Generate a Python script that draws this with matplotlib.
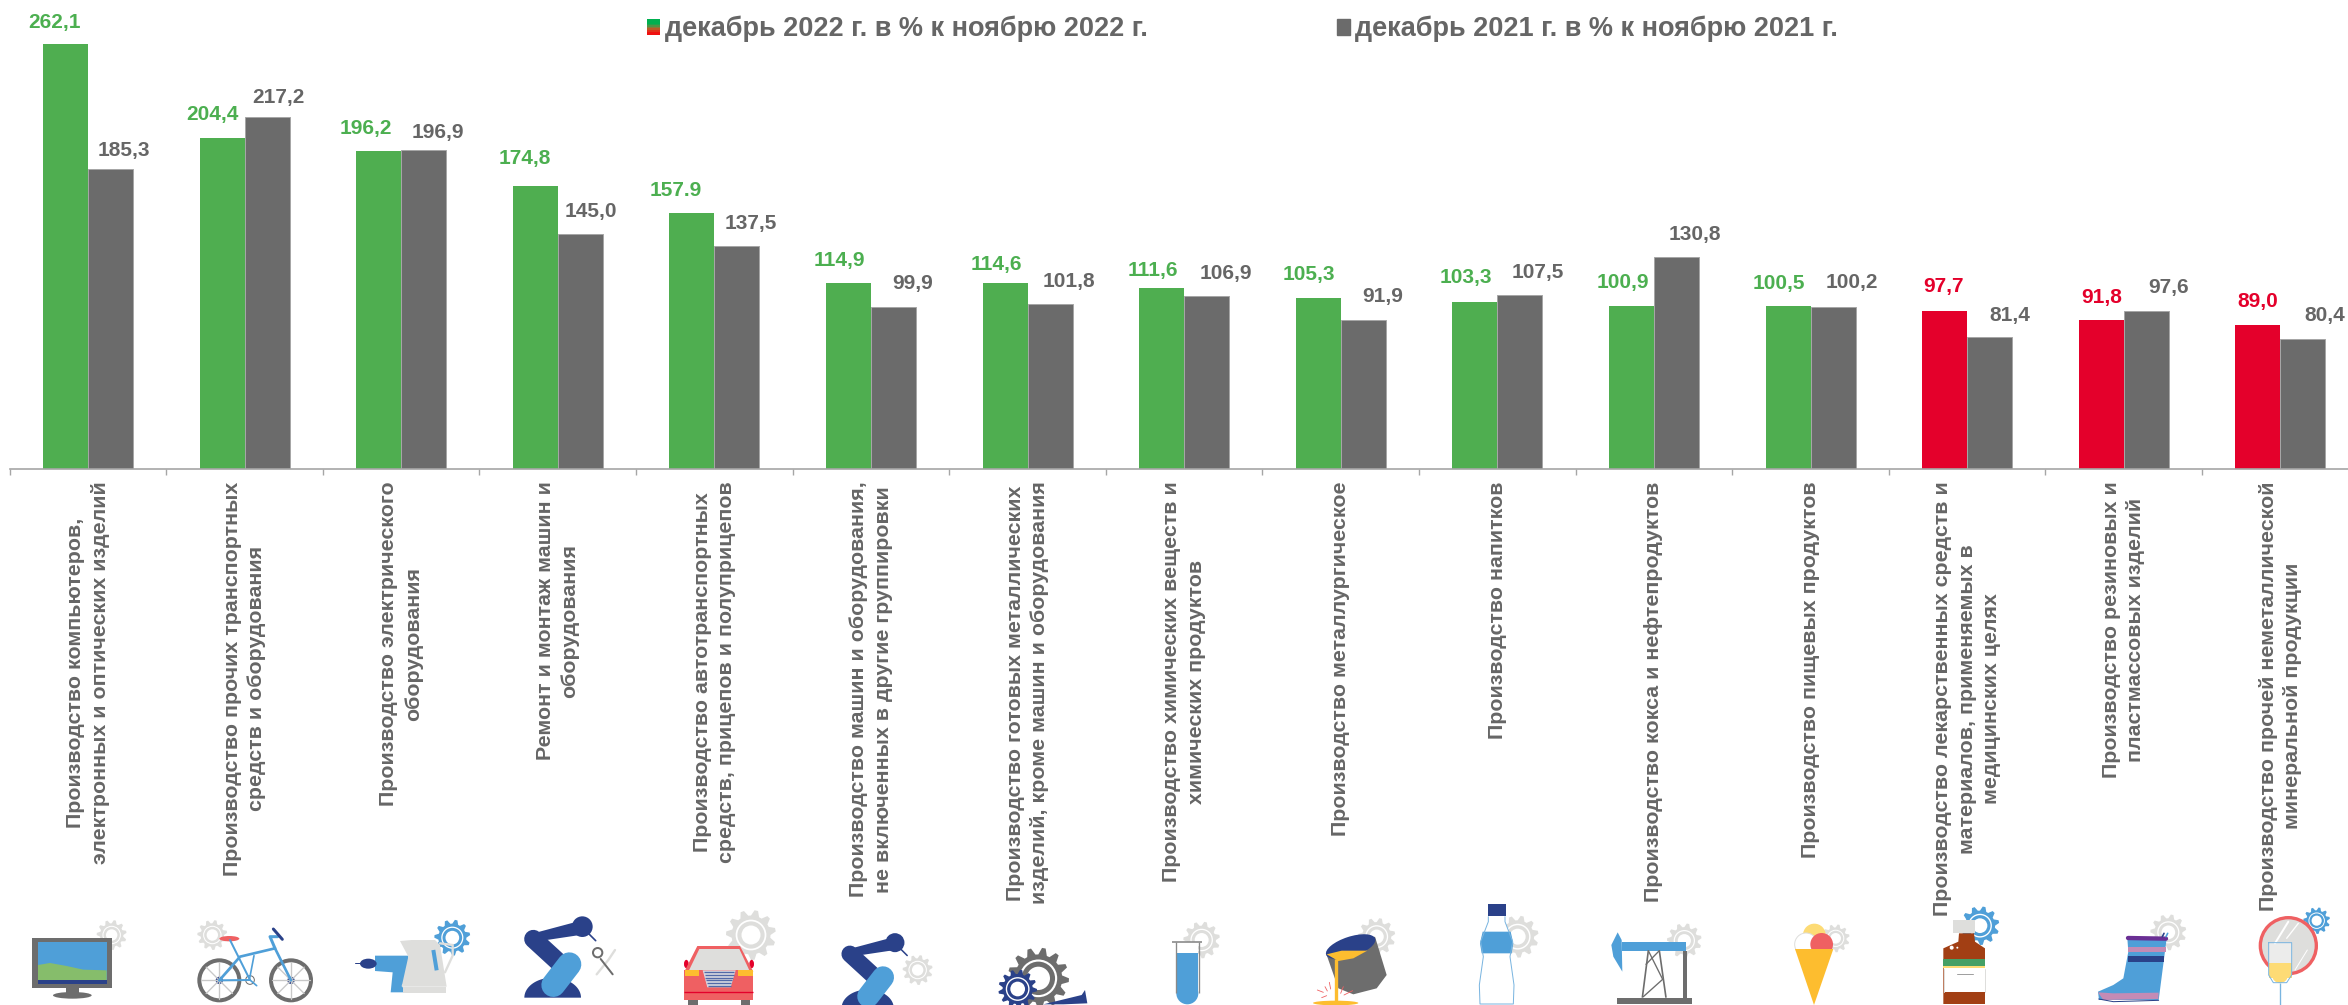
"""
Bar chart: industrial production index, December vs November, by activity
"""

import numpy as np
import matplotlib
matplotlib.use('Agg')
import matplotlib.pyplot as plt
from matplotlib.legend_handler import HandlerBase
from matplotlib.patches import Circle, Ellipse, Patch, Polygon, Rectangle

plt.rcParams['font.family'] = ['Liberation Sans', 'DejaVu Sans']
plt.rcParams['font.weight'] = 'bold'

categories = [
    'Производство компьютеров,\nэлектронных и оптических изделий',
    'Производство прочих транспортных\nсредств и оборудования',
    'Производство электрического\nоборудования',
    'Ремонт и монтаж машин и\nоборудования',
    'Производство автотранспортных\nсредств, прицепов и полуприцепов',
    'Производство машин и оборудования,\nне включенных в другие группировки',
    'Производство готовых металлических\nизделий, кроме машин и оборудования',
    'Производство химических веществ и\nхимических продуктов',
    'Производство металлургическое',
    'Производство напитков',
    'Производство кокса и нефтепродуктов',
    'Производство пищевых продуктов',
    'Производство лекарственных средств и\nматериалов, применяемых в\nмедицинских целях',
    'Производство резиновых и\nпластмассовых изделий',
    'Производство прочей неметаллической\nминеральной продукции',
]
values_2022 = [262.1, 204.4, 196.2, 174.8, 157.9, 114.9, 114.6, 111.6,
               105.3, 103.3, 100.9, 100.5, 97.7, 91.8, 89.0]
values_2021 = [185.3, 217.2, 196.9, 145.0, 137.5, 99.9, 101.8, 106.9,
               91.9, 107.5, 130.8, 100.2, 81.4, 97.6, 80.4]
labels_2022 = ['262,1', '204,4', '196,2', '174,8', '157.9', '114,9', '114,6', '111,6',
               '105,3', '103,3', '100,9', '100,5', '97,7', '91,8', '89,0']
labels_2021 = ['185,3', '217,2', '196,9', '145,0', '137,5', '99,9', '101,8', '106,9',
               '91,9', '107,5', '130,8', '100,2', '81,4', '97,6', '80,4']
legend_2022 = 'декабрь 2022 г. в % к ноябрю 2022 г.'
legend_2021 = 'декабрь 2021 г. в % к ноябрю 2021 г.'

# hand placed data labels in the original, offsets in pixels from the bar top
label_dx_2022 = [-11, -10, -13, -10, -16, -9, -9, -9, -9, -9, -9, -9, -1, 0, 0]
label_dy_2022 = [22, 23, 23, 27, 23, 22, 19, 18, 24, 24, 23, 23, 24, 23, 23]
label_dx_2021 = [13, 11, 14, 11, 14, 19, 19, 19, 19, 18, 18, 19, 20, 22, 22]
label_dy_2021 = [18, 20, 18, 23, 23, 24, 23, 22, 24, 22, 23, 24, 22, 23, 23]

GREEN = '#4FAE50'
LABEL_GREEN = '#4CAF50'
RED = '#E4002B'
GRAY = '#6B6B6B'
TEXT = '#666666'
BLUE = '#4F9FD8'
NAVY = '#2A4189'
LIGHT = '#DEDEDC'
ICON_GRAY = '#6D6D6D'
SALMON = '#EF6062'
YELLOW = '#FDBD2F'
PALE_YELLOW = '#FDDB75'

W, H = 2348, 1005
DPI = 100
PX = 72 / DPI
GROUP_PX = 156.6
CENTER0_PX = 88
BASE_PX = 469
UNIT_PX = 1.62


class Crop:
    """Draws icons in the coordinates of a 3x crop starting at (ox, oy)"""

    def __init__(self, ax, ox, oy):
        self.ax, self.ox, self.oy = ax, ox, oy

    def xy(self, x, y):
        return self.ox + x / 3, self.oy + y / 3

    def poly(self, pts, color, **kw):
        self.ax.add_patch(Polygon([self.xy(*p) for p in pts], closed=True, fc=color, ec='none', **kw))

    def rect(self, x0, y0, x1, y1, color, **kw):
        self.poly([(x0, y0), (x1, y0), (x1, y1), (x0, y1)], color, **kw)

    def circ(self, x, y, r, color, ec='none', lw=0):
        self.ax.add_patch(Circle(self.xy(x, y), r / 3, fc=color, ec=ec, lw=lw * PX / 3))

    def ell(self, x, y, w, h, color, angle=0):
        self.ax.add_patch(Ellipse(self.xy(x, y), w / 3, h / 3, angle=angle, fc=color, ec='none'))

    def line(self, pts, color, lw, cap='round'):
        xs, ys = zip(*[self.xy(*p) for p in pts])
        self.ax.plot(xs, ys, color=color, lw=lw * PX / 3, solid_capstyle=cap, solid_joinstyle='round')

    def gear(self, x, y, r, color=LIGHT, teeth=11):
        ang = np.linspace(0, 2 * np.pi, teeth * 4, endpoint=False) + np.pi / 2 - np.pi / teeth / 2
        rad = np.tile([r, r, r * 0.78, r * 0.78], teeth)
        self.poly(np.column_stack([x + rad * np.cos(ang), y + rad * np.sin(ang)]), color)
        self.circ(x, y, r * 0.58, 'none', ec='white', lw=r * 0.07)
        self.circ(x, y, r * 0.38, 'white')

    def half_disc(self, x, y, rx, ry, color):
        t = np.linspace(np.pi, 2 * np.pi, 40)
        self.poly(np.column_stack([x + rx * np.cos(t), y + ry * np.sin(t)]), color)


def draw_robot(c, dx=0, dy=0, s=1.0):
    p = lambda x, y: (dx + x * s, dy + y * s)
    c.half_disc(*p(188, 338), 85 * s, 60 * s, NAVY)
    c.line([p(130, 162), p(215, 240)], NAVY, 55 * s)
    c.poly([p(130, 145), p(250, 113), p(270, 150), p(170, 165)], NAVY)
    c.circ(*p(277, 125), 31 * s, NAVY)
    c.line([p(295, 145), p(317, 167)], NAVY, 5 * s)
    c.circ(*p(130, 162), 17 * s, BLUE)
    c.line([p(190, 300), p(238, 238)], BLUE, 72 * s)
    c.circ(*p(238, 238), 24 * s, NAVY)


def draw_icons(ax):
    # monitor, bicycle, drill with kettle
    c = Crop(ax, 0, 885)
    c.gear(335, 150, 45)
    c.rect(97, 158, 336, 308, ICON_GRAY)
    c.rect(114, 172, 320, 296, BLUE)
    c.poly([(114, 240), (150, 234), (200, 243), (250, 254), (320, 256), (320, 285), (114, 285)], '#86BD6B')
    c.rect(114, 285, 320, 296, NAVY)
    c.rect(198, 308, 237, 325, ICON_GRAY)
    c.ell(217, 331, 116, 20, ICON_GRAY)

    c.gear(637, 150, 45)
    for wx in (658, 873):
        for a in np.deg2rad([0, 45, 90, 135]):
            c.line([(wx - 56 * np.cos(a), 286 - 56 * np.sin(a)),
                    (wx + 56 * np.cos(a), 286 + 56 * np.sin(a))], '#C8C8C8', 4)
        c.circ(wx, 286, 60, 'none', ec=ICON_GRAY, lw=12)
    c.line([(658, 286), (720, 215), (825, 190), (873, 286)], BLUE, 8)
    c.line([(690, 165), (750, 285), (658, 286)], BLUE, 6)
    c.line([(762, 212), (748, 285)], BLUE, 5)
    c.line([(825, 190), (810, 155), (833, 155)], BLUE, 9)
    c.line([(820, 132), (847, 163)], NAVY, 9)
    c.circ(750, 285, 13, 'none', ec=ICON_GRAY, lw=3)
    c.line([(750, 285), (770, 302)], BLUE, 5)
    c.ell(688, 161, 60, 16, SALMON)
    c.circ(658, 286, 11, NAVY)
    c.circ(873, 286, 11, NAVY)

    c.gear(1357, 158, 54, BLUE)
    c.line([(1065, 235), (1085, 235)], NAVY, 3)
    c.poly([(1125, 212), (1225, 212), (1225, 288), (1205, 300), (1215, 322), (1172, 322), (1178, 262), (1125, 258)], BLUE)
    c.ell(1105, 236, 50, 30, NAVY)
    c.line([(1320, 175), (1358, 180), (1358, 212), (1335, 262)], LIGHT, 7)
    c.poly([(1200, 168), (1235, 165), (1305, 165), (1320, 180), (1340, 305), (1205, 305), (1225, 215)], LIGHT)
    c.rect(1208, 307, 1338, 325, LIGHT)
    c.line([(1300, 195), (1310, 256)], BLUE, 12, cap='butt')

    # robot with tools, car, robot with gear
    c = Crop(ax, 490, 885)
    draw_robot(c)
    c.circ(323, 203, 14, 'none', ec=ICON_GRAY, lw=6)
    c.line([(375, 195), (355, 225), (320, 268)], LIGHT, 7)
    c.line([(332, 222), (368, 268)], ICON_GRAY, 6)

    c.gear(783, 150, 75)
    c.ell(589, 237, 14, 25, RED)
    c.ell(785, 237, 14, 25, RED)
    c.poly([(622, 183), (750, 183), (790, 260), (583, 260)], SALMON)
    c.poly([(628, 192), (748, 192), (778, 256), (597, 256)], LIGHT)
    c.rect(593, 344, 623, 360, ICON_GRAY)
    c.rect(752, 344, 781, 360, ICON_GRAY)
    c.rect(583, 255, 790, 345, SALMON)
    c.rect(585, 256, 628, 272, YELLOW)
    c.rect(745, 256, 790, 272, YELLOW)
    c.poly([(638, 256), (737, 256), (722, 307), (652, 307)], '#D8D8E0')
    for i, gy in enumerate(range(262, 304, 8)):
        c.line([(642 + i * 2.2, gy), (733 - i * 2.2, gy)], '#5269A8', 4, cap='butt')
    c.line([(583, 320), (790, 320)], RED, 4, cap='butt')

    c.gear(1283, 255, 45)
    draw_robot(c, dx=960, dy=58, s=0.92)

    # gears with funnel, test tube, ladle
    c = Crop(ax, 980, 885)
    c.gear(175, 280, 92, ICON_GRAY, teeth=13)
    c.gear(113, 312, 58, NAVY, teeth=13)
    c.poly([(190, 358), (305, 330), (315, 315), (322, 355), (250, 358)], NAVY)

    c.gear(665, 165, 55)
    c.rect(590, 172, 655, 325, 'white')
    c.circ(622, 325, 34, 'white')
    c.rect(590, 205, 655, 325, BLUE)
    c.circ(622, 325, 33, BLUE)
    c.line([(589, 172), (589, 325)], '#8A8A8A', 4, cap='butt')
    c.line([(656, 172), (656, 325)], '#8A8A8A', 4, cap='butt')
    c.line([(576, 172), (667, 172)], '#8A8A8A', 5, cap='butt')

    c.gear(1190, 155, 56)
    c.poly([(1040, 210), (1185, 155), (1220, 270), (1190, 310), (1120, 328), (1075, 310)], ICON_GRAY)
    c.ell(1112, 185, 155, 60, NAVY, angle=-18)
    c.poly([(1040, 208), (1085, 197), (1162, 197), (1120, 220), (1075, 228)], YELLOW)
    c.line([(1067, 222), (1067, 350)], YELLOW, 10, cap='butt')
    c.ell(1067, 354, 136, 14, YELLOW)
    for a, b in [((1012, 315), (1030, 322)), ((1035, 305), (1042, 318)), ((1048, 292), (1052, 312)),
                 ((1082, 325), (1090, 305)), ((1092, 330), (1118, 317)), ((1025, 338), (1040, 332))]:
        c.line([a, b], SALMON, 2.5)

    # water bottle, pump jack, ice cream
    c = Crop(ax, 1470, 885)
    c.gear(143, 155, 63)
    c.poly([(55, 110), (105, 110), (128, 170), (120, 215), (132, 300), (130, 357), (30, 357), (28, 300), (40, 215), (32, 170)],
           'white')
    c.line([(55, 95), (55, 110), (32, 170), (40, 215), (28, 300), (30, 357), (130, 357), (132, 300), (120, 215),
            (128, 170), (105, 110), (105, 95)], '#7AB5E0', 3)
    c.poly([(38, 140), (122, 140), (130, 175), (125, 205), (35, 205), (30, 175)], BLUE)
    c.rect(53, 58, 107, 92, NAVY)

    c.gear(643, 167, 52)
    c.rect(640, 197, 650, 338, ICON_GRAY)
    c.line([(535, 197), (517, 338)], ICON_GRAY, 5, cap='butt')
    c.line([(568, 197), (588, 338)], ICON_GRAY, 5, cap='butt')
    c.line([(535, 197), (578, 283), (520, 335)], ICON_GRAY, 4)
    c.line([(568, 197), (528, 238)], ICON_GRAY, 4)
    c.rect(442, 338, 667, 356, ICON_GRAY)
    c.rect(455, 170, 648, 197, BLUE)
    c.poly([(443, 142), (455, 165), (457, 260), (430, 215), (424, 180)], BLUE)

    c.gear(1097, 160, 42)
    c.circ(1033, 150, 34, PALE_YELLOW)
    c.circ(1008, 178, 34, 'white', ec=LIGHT, lw=3)
    c.circ(1055, 178, 34, SALMON)
    c.poly([(975, 192), (1090, 192), (1032, 360)], YELLOW)

    # medicine bottle, boot, mirror with glass
    c = Crop(ax, 1900, 885)
    c.gear(240, 122, 58, BLUE)
    c.poly([(177, 145), (222, 145), (225, 170), (255, 190), (255, 357), (130, 357), (130, 190), (175, 170)], '#A23F14')
    c.rect(160, 105, 225, 145, LIGHT)
    c.rect(130, 222, 255, 242, '#45A065')
    c.rect(130, 242, 255, 250, PALE_YELLOW)
    c.rect(132, 250, 255, 322, 'white')
    c.line([(132, 252), (132, 322)], LIGHT, 3)
    c.line([(254, 252), (254, 322)], LIGHT, 3)
    c.line([(170, 268), (218, 268)], '#A0A0A0', 3)
    c.circ(155, 188, 6, 'white')
    c.circ(172, 188, 3, 'white')

    c.gear(805, 142, 54)
    c.poly([(682, 160), (800, 160), (778, 330), (776, 345), (597, 345), (594, 320), (640, 300), (670, 280), (685, 200)], BLUE)
    c.line([(596, 342), (640, 350), (776, 346)], NAVY, 3)
    c.poly([(594, 322), (640, 325), (776, 323), (775, 342), (610, 345)], '#C48BB5')
    c.rect(683, 185, 798, 202, '#C48BB5')
    c.rect(685, 212, 793, 230, NAVY)
    c.line([(684, 159), (798, 161)], '#6A2F94', 13)
    c.line([(787, 155), (792, 145)], NAVY, 5)
    c.line([(798, 155), (803, 145)], BLUE, 5)

    c.gear(1250, 107, 40, BLUE)
    c.circ(1165, 182, 84, LIGHT, ec=SALMON, lw=10)
    c.line([(1125, 175), (1165, 110)], 'white', 6)
    c.line([(1160, 160), (1195, 115)], 'white', 4)
    c.line([(1185, 255), (1222, 195)], 'white', 3)
    c.rect(1106, 173, 1175, 280, 'white', alpha=0.45)
    c.rect(1106, 233, 1175, 280, PALE_YELLOW)
    c.circ(1140, 270, 24, PALE_YELLOW)
    c.line([(1106, 173), (1175, 173), (1175, 270), (1160, 293), (1120, 293), (1106, 270), (1106, 173)], '#7AB5E0', 3)
    c.line([(1140, 293), (1140, 362)], '#7AB5E0', 4, cap='butt')


class GradientHandler(HandlerBase):
    """Legend key that fades from green to red, as the bars change colour"""

    def create_artists(self, legend, orig_handle, xdescent, ydescent, width, height, fontsize, trans):
        stops = ['#00B050', '#00B050', '#00B050', '#1DA64C', '#4F9446', '#877A38', '#B85A28', '#E0301A', '#F01010', '#F01010']
        step = height / len(stops)
        return [Rectangle((-xdescent, -ydescent + height - (i + 1) * step), width, step * 1.05, fc=col, ec='none',
                          transform=trans) for i, col in enumerate(stops)]


fig = plt.figure(figsize=(W / DPI, H / DPI), dpi=DPI)

icons_ax = fig.add_axes([0, 0, 1, 1], zorder=0)
icons_ax.set_xlim(0, W)
icons_ax.set_ylim(H, 0)
icons_ax.axis('off')
draw_icons(icons_ax)

ax = fig.add_axes([0, 1 - BASE_PX / H, 1, BASE_PX / H], zorder=1)
ax.patch.set_alpha(0)
ax.set_xlim(-CENTER0_PX / GROUP_PX, (W - CENTER0_PX) / GROUP_PX)
ax.set_ylim(0, BASE_PX / UNIT_PX)

x = np.arange(len(categories))
bar_w = 45 / GROUP_PX
vals_22 = np.array(values_2022)
colors_22 = np.where(vals_22 >= 100, GREEN, RED)
ax.bar(x - bar_w / 2, vals_22, bar_w, color=colors_22)
ax.bar(x + bar_w / 2, values_2021, bar_w, color=GRAY, edgecolor='#A6A6A6', linewidth=0.7)

for i in x:
    col = LABEL_GREEN if vals_22[i] >= 100 else RED
    ax.annotate(labels_2022[i], (x[i] - bar_w / 2, vals_22[i]), xytext=(label_dx_2022[i] * PX, label_dy_2022[i] * PX),
                textcoords='offset points', ha='center', va='center', fontsize=15, color=col)
    ax.annotate(labels_2021[i], (x[i] + bar_w / 2, values_2021[i]), xytext=(label_dx_2021[i] * PX, label_dy_2021[i] * PX),
                textcoords='offset points', ha='center', va='center', fontsize=15, color=TEXT)

for side in ('top', 'left', 'right'):
    ax.spines[side].set_visible(False)
ax.spines['bottom'].set_color('#A6A6A6')
ax.spines['bottom'].set_linewidth(1.2)
ax.spines['bottom'].set_bounds(-0.5, ax.get_xlim()[1])
ax.set_yticks([])
ax.set_xticks(x)
ax.set_xticks(np.arange(-0.5, len(categories) - 1), minor=True)
ax.tick_params(axis='x', which='minor', length=4.3, width=1, color='#A6A6A6')
ax.tick_params(axis='x', which='major', length=0, pad=9)
ax.set_xticklabels(categories, rotation=90, ha='center', va='top', ma='center',
                   fontsize=15.4, color=TEXT, linespacing=1.36)

handles = [Patch(label=legend_2022), Patch(color=GRAY, label=legend_2021)]
fig.legend(handles=handles, handler_map={handles[0]: GradientHandler()}, ncol=2, frameon=False,
           loc='upper left', bbox_to_anchor=(647 / W, 1 - 16 / H), borderpad=0, borderaxespad=0,
           prop={'size': 19.5, 'weight': 'bold'}, labelcolor=TEXT, handlelength=0.48, handleheight=0.55,
           handletextpad=0.18, columnspacing=7.0)

fig.savefig('out.png', dpi=DPI)
